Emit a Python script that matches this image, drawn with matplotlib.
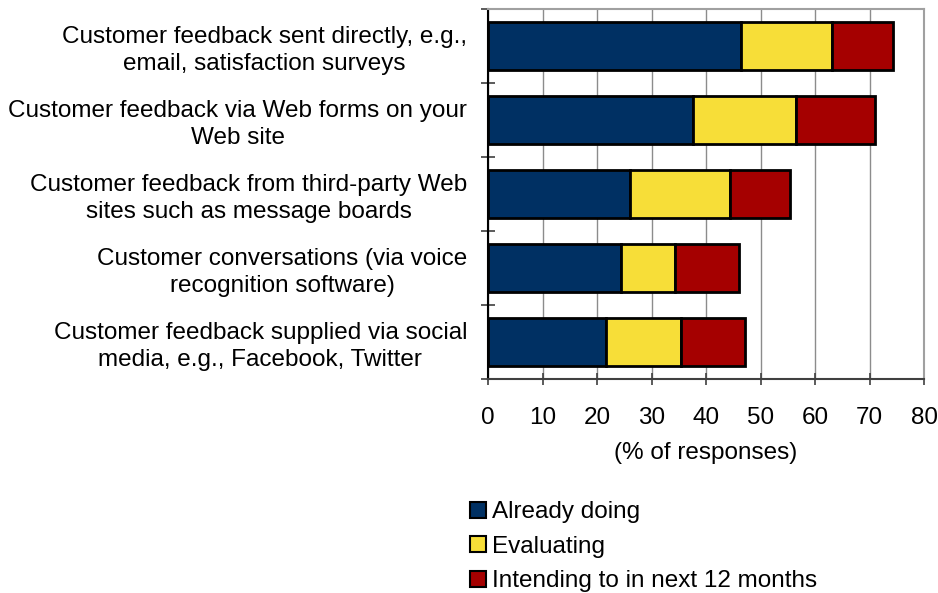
import numpy as np
import matplotlib.pyplot as plt
from matplotlib.patches import Patch

plt.rcParams['font.family'] = ['Liberation Sans', 'DejaVu Sans']

categories = [
    "Customer feedback sent directly, e.g.,\nemail, satisfaction surveys",
    "Customer feedback via Web forms on your\nWeb site",
    "Customer feedback from third-party Web\nsites such as message boards",
    "Customer conversations (via voice\nrecognition software)",
    "Customer feedback supplied via social\nmedia, e.g., Facebook, Twitter",
]
already_doing = [46.5, 37.7, 26.0, 24.4, 21.6]
evaluating = [16.7, 18.8, 18.4, 9.9, 13.8]
intending = [11.1, 14.5, 11.1, 11.8, 11.8]

series_names = ["Already doing", "Evaluating", "Intending to in next 12 months"]
colors = ["#003063", "#f7de38", "#a50000"]
fs = 17.5

fig = plt.figure(figsize=(9.38, 5.93), dpi=100)
ax = fig.add_axes([488 / 938, 1 - 379 / 593, (924 - 488) / 938, (379 - 9) / 593])

y = np.arange(len(categories))
left = np.zeros(len(categories))
for vals, col in zip([already_doing, evaluating, intending], colors):
    ax.barh(y, vals, left=left, height=0.66, color=col,
            edgecolor="black", linewidth=2, zorder=3)
    left += np.array(vals)

ax.set_ylim(len(categories) - 0.5, -0.5)
ax.set_xlim(0, 80)
ax.set_xticks(range(0, 81, 10))
ax.tick_params(axis="x", labelsize=fs, direction="inout", length=9, width=1.2,
               color="#404040", pad=16)

# category labels sit between the boundary ticks
ax.set_yticks(y)
ax.set_yticklabels(categories, fontsize=fs, multialignment="center", linespacing=1.29)
ax.tick_params(axis="y", length=0, pad=15)
ax.set_yticks(np.arange(-0.5, len(categories), 1.0), minor=True)
ax.tick_params(axis="y", which="minor", direction="inout", length=10, width=1.2, color="#404040")

ax.grid(axis="x", color="#8c8c8c", linewidth=1, zorder=0)
ax.spines["left"].set_color("black")
ax.spines["left"].set_linewidth(1.5)
ax.spines["bottom"].set_color("#404040")
ax.spines["bottom"].set_linewidth(1.5)
for s in ["top", "right"]:
    ax.spines[s].set_color("#a0a0a0")
    ax.spines[s].set_linewidth(1.5)

ax.set_xlabel("(% of responses)", fontsize=fs, labelpad=9)

handles = [Patch(facecolor=c, edgecolor="black", linewidth=1.5) for c in colors]
fig.legend(handles, series_names, loc="upper left", bbox_to_anchor=(458 / 938, 1 - 489 / 593),
           frameon=False, fontsize=fs, handlelength=0.65, handleheight=0.65,
           handletextpad=0.25, labelspacing=0.52, borderpad=0)

fig.savefig("out.png", dpi=100)
